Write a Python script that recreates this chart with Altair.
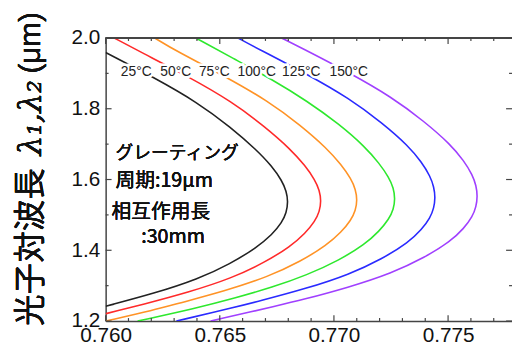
import altair as alt
import pandas as pd

# ---- data ----
temps = ["25°C", "50°C", "75°C", "100°C", "125°C", "150°C"]
colors = ["#222222", "#ff2a2a", "#ff9326", "#2ee82e", "#2a2aff", "#a040ff"]

c25_x = [0.7600, 0.76215, 0.76403, 0.76547, 0.76662, 0.76729, 0.76772, 0.76792, 0.76799,
         0.76792, 0.76772, 0.76729, 0.76662, 0.76547, 0.76403, 0.76215, 0.7600]
c25_y = [1.959, 1.887, 1.8175, 1.748, 1.683, 1.637, 1.597, 1.567, 1.537,
         1.506, 1.4785, 1.444, 1.408, 1.362, 1.318, 1.2785, 1.2417]

c50_x = [0.76038, 0.76154, 0.76364, 0.76553, 0.76696, 0.76811, 0.76874, 0.76917, 0.76937, 0.76944,
         0.76937, 0.76917, 0.76874, 0.76811, 0.76696, 0.76553, 0.76364, 0.76154, 0.76038, 0.7600]
c50_y = [2.0, 1.96, 1.89, 1.82, 1.75, 1.685, 1.639, 1.599, 1.569, 1.539,
         1.5096, 1.4821, 1.4478, 1.4116, 1.3653, 1.3213, 1.2814, 1.2454, 1.2268, 1.2207]

c75_x = [0.76215, 0.76312, 0.76522, 0.76711, 0.76854, 0.76969, 0.77032, 0.77075, 0.77095, 0.77102,
         0.77095, 0.77075, 0.77032, 0.76969, 0.76854, 0.76711, 0.76522, 0.76312, 0.76215, 0.7600]
c75_y = [2.0, 1.962, 1.892, 1.822, 1.753, 1.688, 1.642, 1.602, 1.572, 1.542,
         1.5129, 1.4854, 1.4511, 1.4148, 1.3685, 1.325, 1.2849, 1.2489, 1.2314, 1.2]

c100_x = [0.76395, 0.76565, 0.7673, 0.76882, 0.77022, 0.77137, 0.77198, 0.77241, 0.77261, 0.77268,
          0.77261, 0.77241, 0.77198, 0.77137, 0.77022, 0.76882, 0.7673, 0.76565, 0.76395, 0.7614]
c100_y = [2.0, 1.94, 1.8825, 1.822, 1.757, 1.692, 1.646, 1.606, 1.576, 1.546,
          1.5156, 1.4881, 1.4538, 1.4177, 1.3714, 1.3301, 1.2952, 1.2648, 1.2361, 1.2]

c125_x = [0.7658, 0.76669, 0.76879, 0.77068, 0.77211, 0.77326, 0.77384, 0.77422, 0.77438, 0.77444,
          0.77438, 0.77422, 0.77384, 0.77326, 0.77211, 0.77068, 0.76879, 0.76669, 0.7658, 0.7631]
c125_y = [2.0, 1.969, 1.899, 1.829, 1.76, 1.695, 1.649, 1.609, 1.579, 1.549,
          1.5196, 1.4922, 1.4581, 1.4219, 1.3756, 1.3319, 1.2917, 1.2556, 1.241, 1.2]

c150_x = [0.7677, 0.76854, 0.77064, 0.77253, 0.77396, 0.77511, 0.77569, 0.77607, 0.77623, 0.77629,
          0.77623, 0.77607, 0.77569, 0.77511, 0.77396, 0.77253, 0.77064, 0.76854, 0.7677, 0.7646]
c150_y = [2.0, 1.973, 1.903, 1.833, 1.764, 1.699, 1.653, 1.613, 1.583, 1.553,
          1.5231, 1.4957, 1.4615, 1.4254, 1.379, 1.3353, 1.2951, 1.2589, 1.246, 1.2]

label_x = [0.76134, 0.76307, 0.76476, 0.76662, 0.76857, 0.77065]
label_y = [1.903, 1.903, 1.903, 1.903, 1.903, 1.903]

x_major = [0.760, 0.765, 0.770, 0.775]
x_minor = [0.761, 0.762, 0.763, 0.764, 0.766, 0.767, 0.768, 0.769, 0.771, 0.772, 0.773, 0.774, 0.776, 0.777]
y_major = [1.2, 1.4, 1.6, 1.8, 2.0]
y_minor = [1.3, 1.5, 1.7, 1.9]

# ---- build tables ----
curves = [(c25_x, c25_y), (c50_x, c50_y), (c75_x, c75_y), (c100_x, c100_y), (c125_x, c125_y), (c150_x, c150_y)]
rows = []
for t, (xs_, ys_) in zip(temps, curves):
    for i, (a, b) in enumerate(zip(xs_, ys_)):
        rows.append({"x": a, "y": b, "temp": t, "i": i})
df = pd.DataFrame(rows)
labels = pd.DataFrame({"x": label_x, "y": label_y, "temp": temps})

W, H = 412, 287
XDOM = [0.760, 0.7778]
YDOM = [1.2, 2.0]
xs = alt.Scale(domain=XDOM, nice=False, zero=False)
ys = alt.Scale(domain=YDOM, nice=False, zero=False)
FONT = "Liberation Sans"
AX = "#444444"

xenc = alt.X("x:Q", scale=xs, title=None,
             axis=alt.Axis(values=x_major, format=".3f", ticks=False, grid=False,
                           labelFontSize=21, labelFont=FONT, labelColor="#111111",
                           labelPadding=4, labelFlush=False,
                           domainColor=AX, domainWidth=1.5))
yenc = alt.Y("y:Q", scale=ys, title=None,
             axis=alt.Axis(values=y_major, format=".1f", ticks=False, grid=False,
                           labelFontSize=21, labelFont=FONT, labelColor="#111111",
                           labelPadding=6, domainColor=AX, domainWidth=1.5))

lines = alt.Chart(df).mark_line(strokeWidth=1.6, interpolate="basis", clip=True).encode(
    x=xenc, y=yenc,
    color=alt.Color("temp:N", scale=alt.Scale(domain=temps, range=colors), legend=None),
    order=alt.Order("i:Q"),
)

halo = alt.Chart(labels).mark_text(fontSize=14, font=FONT, stroke="white", strokeWidth=5,
                                    fill="white", align="center", baseline="middle").encode(
    x=alt.X("x:Q", scale=xs), y=alt.Y("y:Q", scale=ys), text="temp:N")
ltext = alt.Chart(labels).mark_text(fontSize=14, font=FONT, color="#222222",
                                     align="center", baseline="middle").encode(
    x=alt.X("x:Q", scale=xs), y=alt.Y("y:Q", scale=ys), text="temp:N")

xmaj = pd.DataFrame({"v": x_major})
xmin = pd.DataFrame({"v": x_minor})
ymaj = pd.DataFrame({"v": y_major})
ymin = pd.DataFrame({"v": y_minor})

def xticks(d, y0, y1):
    return alt.Chart(d).mark_rule(color=AX, strokeWidth=1.2).encode(
        x=alt.X("v:Q", scale=xs), y=alt.value(y0), y2=alt.value(y1))

def yticks(d, x0, x1):
    return alt.Chart(d).mark_rule(color=AX, strokeWidth=1.2).encode(
        y=alt.Y("v:Q", scale=ys), x=alt.value(x0), x2=alt.value(x1))

ticks = [
    xticks(xmaj, H, H - 6), xticks(xmin, H, H - 3),
    xticks(xmaj, 0, 6), xticks(xmin, 0, 3),
    yticks(ymaj, 0, 6), yticks(ymin, 0, 3),
    yticks(ymaj, W, W - 6), yticks(ymin, W, W - 3),
]

top_line = alt.Chart(xmaj).mark_rule(color=AX, strokeWidth=1.5).encode(
    x=alt.value(0), x2=alt.value(W), y=alt.value(0))

def note(txt, x, y, size, font="Noto Sans CJK JP", align="left", angle=0, style="normal"):
    return alt.Chart(xmaj).mark_text(text=txt, fontSize=size, font=font, color="#111111",
                                      align=align, baseline="middle", angle=angle,
                                      fontStyle=style).encode(
        x=alt.value(x), y=alt.value(y))

notes = [
    note("グレーティング", 10, 118, 18),
    note("周期:19μm", 10, 145, 20),
    note("相互作用長", 6, 177, 20),
    note(":30mm", 36, 202, 20),
    note("光子対波長", -76, 212, 32, align="center", angle=270),
    note("λ₁,λ₂", -76, 81, 32, font="DejaVu Serif", align="center", angle=270, style="italic"),
    note("(μm)", -76, 5, 30, font=FONT, align="center", angle=270),
]

chart = alt.layer(lines, *ticks, top_line, halo, ltext, *notes).properties(
    width=W, height=H,
    autosize=alt.AutoSizeParams(type="none"),
    padding={"left": 99, "top": 28, "right": 0, "bottom": 30},
).configure_view(stroke=None)

chart.save("out.html", embed_options={"renderer": "svg", "actions": False})
